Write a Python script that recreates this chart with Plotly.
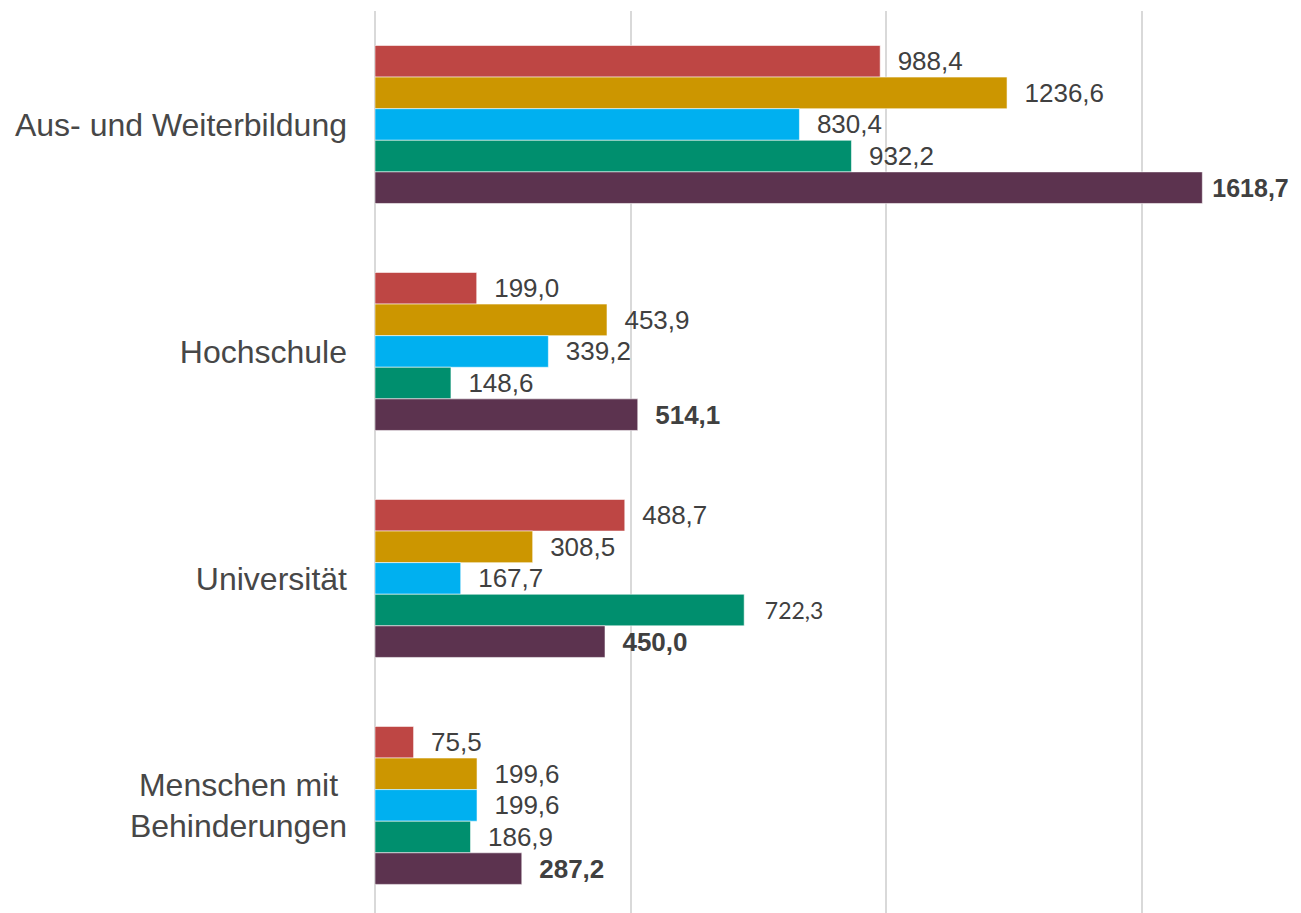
import plotly.graph_objects as go

categories = ["Aus- und Weiterbildung", "Hochschule", "Universität", "Menschen mit\u00a0<br>Behinderungen"]
series_names = ["Reihe 1", "Reihe 2", "Reihe 3", "Reihe 4", "Reihe 5"]
series_values = [
    [988.4, 199.0, 488.7, 75.5],
    [1236.6, 453.9, 308.5, 199.6],
    [830.4, 339.2, 167.7, 199.6],
    [932.2, 148.6, 722.3, 186.9],
    [1618.7, 514.1, 450.0, 287.2],
]
colors = ["#BE4644", "#CC9600", "#00B0F0", "#008F6E", "#5C334F"]
bold_series = [False, False, False, False, True]

NB = "\u00a0"
max_value = max(max(v) for v in series_values)


def fmt(v):
    return f"{v:.1f}".replace(".", ",")


fig = go.Figure()
for i, (name, vals) in enumerate(zip(series_names, series_values)):
    texts, fams, sizes = [], [], []
    for v in vals:
        s = fmt(v)
        if bold_series[i]:
            s = f"<b>{s}</b>"
        if fmt(v) == "722,3":
            texts.append(NB * 3 + s)
            fams.append("Lato")
            sizes.append(23)
        elif v == max_value:
            texts.append(NB + s)
            fams.append("Liberation Sans, Arial")
            sizes.append(25)
        else:
            texts.append(NB * 2 + s)
            fams.append("Liberation Sans, Arial")
            sizes.append(26)
    fig.add_trace(go.Bar(
        name=name,
        y=categories,
        x=vals,
        orientation="h",
        marker=dict(color=colors[i], line=dict(color="rgba(255,255,255,0.55)", width=1)),
        text=texts,
        texttemplate="%{text}",
        textposition="outside",
        textfont=dict(family=fams, size=sizes, color="#404040"),
        cliponaxis=False,
        constraintext="none",
        showlegend=False,
        hoverinfo="x+y",
    ))

fig.update_layout(
    width=1293,
    height=905,
    margin=dict(l=367, r=6, t=3, b=0),
    paper_bgcolor="white",
    plot_bgcolor="white",
    barmode="group",
    bargap=0.304,
    bargroupgap=0,
    separators=",.",
    font=dict(family="Liberation Sans, Arial", color="#404040"),
    showlegend=False,
)
fig.update_xaxes(
    range=[0, 1800],
    dtick=500,
    showgrid=True,
    gridcolor="#D9D9D9",
    gridwidth=2,
    zeroline=True,
    zerolinecolor="#D9D9D9",
    zerolinewidth=2,
    showticklabels=False,
    showline=False,
)
fig.update_yaxes(
    range=[3.474, -0.5],
    showgrid=False,
    zeroline=False,
    showline=False,
    ticks="",
    ticklabelstandoff=27,
    tickfont=dict(size=32, color="#474747", family="Liberation Sans, Arial"),
)

fig.write_html("out.html")
